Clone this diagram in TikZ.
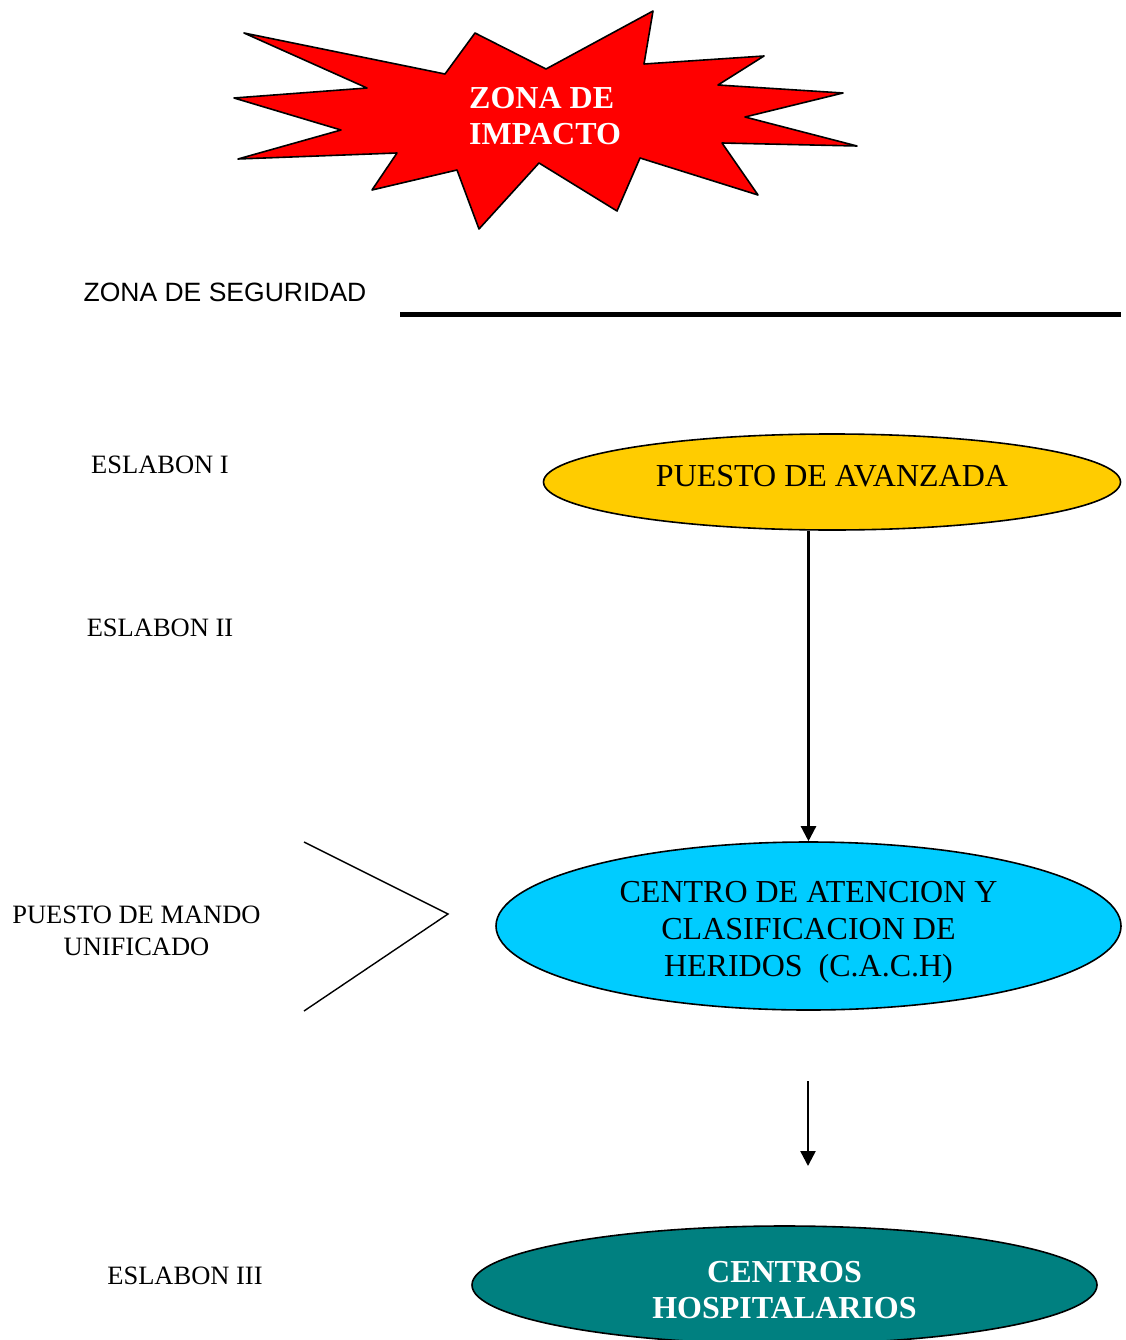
\documentclass[tikz,border=0pt]{standalone}
\usepackage{fontspec}
\setmainfont{Liberation Serif}
\newfontfamily\arialfont{Liberation Sans}
\usepackage{xcolor}
\usepackage{tikz}
\usetikzlibrary{shapes.geometric, arrows.meta}

\definecolor{oro}{HTML}{FFCC00}
\definecolor{celeste}{HTML}{00CCFF}
\definecolor{verdeazul}{HTML}{008080}

\tikzset{
    eslabon/.style={font=\fontsize{26.5}{32}\selectfont, align=center},
    nivel/.style={ellipse, draw=black, line width=1.6pt, inner sep=0pt},
    rotulo/.style={align=center, inner sep=0pt, font=\fontsize{32}{37}\selectfont},
    flecha/.style={-{Triangle[length=15pt, width=15pt]}, line width=2.4pt},
}

\begin{document}
\begin{tikzpicture}[x=1pt, y=-1pt]
    \useasboundingbox (0,0) rectangle (1125,1340);

    % Zona de impacto (estrella)
    \draw[line width=1.6pt, fill=red, line join=round]
        (244,33) -- (445,74) -- (475,33) -- (546,69) -- (653,11) -- (644,64)
        -- (764,56) -- (718,85) -- (843,93) -- (745,117) -- (857,146)
        -- (722,143) -- (758,195) -- (640,158) -- (617,211) -- (539,163)
        -- (479,229) -- (457,170) -- (372,190) -- (397,153) -- (238,159)
        -- (341,130) -- (234,98) -- (367,88) -- cycle;
    \node[anchor=west, white, align=left, inner sep=0pt,
        font=\fontsize{32}{36}\selectfont\bfseries] (impacto) at (469,116)
        {ZONA DE\\IMPACTO};

    % Zona de seguridad
    \node[font=\arialfont\fontsize{26.5}{32}\selectfont] (seguridad) at (225,292)
        {ZONA DE SEGURIDAD};
    \draw[line width=5pt] (400,314) -- (1121,314);

    % Eslabones
    \node[eslabon] (eslabon1) at (160,465) {ESLABON I};
    \node[eslabon] (eslabon2) at (160,628) {ESLABON II};
    \node[eslabon] (mando) at (136.5,931) {PUESTO DE MANDO\\UNIFICADO};
    \node[eslabon] (eslabon3) at (185,1276) {ESLABON III};

    % Niveles de atencion
    \node[nivel, fill=oro, minimum width=577pt, minimum height=96pt]
        (avanzada) at (832,482) {};
    \node[rotulo] (textoavanzada) at ([yshift=6pt]avanzada.center)
        {PUESTO DE AVANZADA};
    \node[nivel, fill=celeste, minimum width=625pt, minimum height=168pt]
        (cach) at (808.5,926) {};
    \node[rotulo] (textocach) at ([yshift=-6pt]cach.center)
        {CENTRO DE ATENCION Y\\CLASIFICACION DE\\HERIDOS\ \ (C.A.C.H)};
    \node[nivel, fill=verdeazul, minimum width=625pt, minimum height=118pt]
        (hospitales) at (784.5,1285) {};
    \node[rotulo, text=white, font=\fontsize{32}{36}\selectfont\bfseries]
        (textohospitales) at ([yshift=-5pt]hospitales.center)
        {CENTROS\\HOSPITALARIOS};

    % Flechas
    \draw[flecha] (cach.north |- avanzada.south) -- (cach.north);
    \coordinate (salida) at (808,1081);
    \coordinate (llegada) at (808,1166);
    \draw[flecha] (salida) -- (llegada);

    % Puesto de mando
    \draw[line width=1.4pt] (304,842) -- (448,914) -- (304,1011);
\end{tikzpicture}
\end{document}
